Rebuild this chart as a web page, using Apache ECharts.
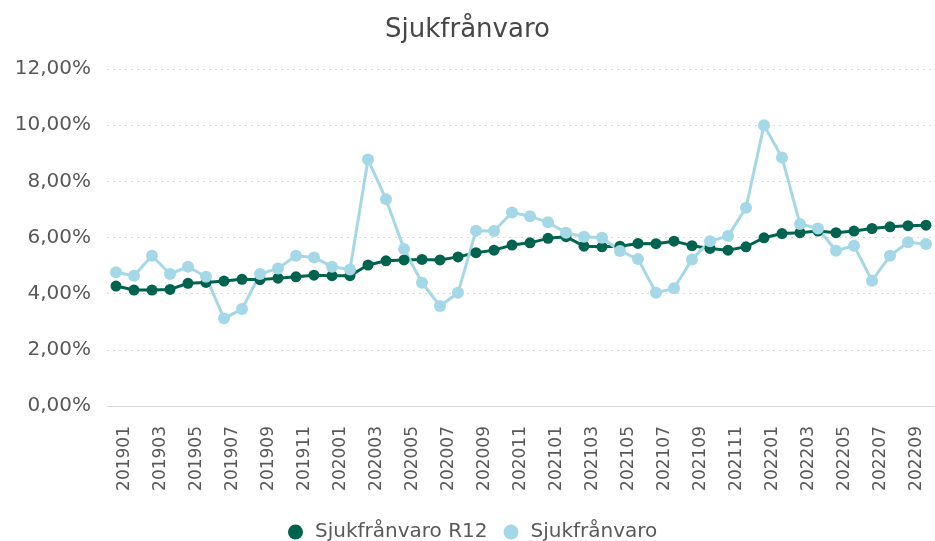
<!DOCTYPE html>
<html>
<head>
<meta charset="utf-8">
<script src="https://cdn.jsdelivr.net/npm/echarts@6/dist/echarts.min.js"></script>
<style>
  html, body { margin: 0; padding: 0; background: #fff; }
  #chart { width: 935px; height: 541px; }
</style>
</head>
<body>
<div id="chart"></div>
<script>
// månader
const months = [
  '201901', '201902', '201903', '201904', '201905', '201906', '201907', '201908', '201909', '201910', '201911', '201912',
  '202001', '202002', '202003', '202004', '202005', '202006', '202007', '202008', '202009', '202010', '202011', '202012',
  '202101', '202102', '202103', '202104', '202105', '202106', '202107', '202108', '202109', '202110', '202111', '202112',
  '202201', '202202', '202203', '202204', '202205', '202206', '202207', '202208', '202209', '202210'
]

// rullande 12 månader (%)
const r12Values = [
  4.27, 4.13, 4.13, 4.15, 4.37, 4.40, 4.45, 4.51, 4.50, 4.55, 4.60, 4.66,
  4.64, 4.64, 5.02, 5.17, 5.20, 5.22, 5.20, 5.31, 5.46, 5.55, 5.73, 5.81,
  5.97, 6.03, 5.69, 5.67, 5.69, 5.79, 5.78, 5.87, 5.71, 5.61, 5.55, 5.67,
  5.99, 6.14, 6.17, 6.23, 6.17, 6.23, 6.32, 6.38, 6.42, 6.44
]

// månadsvärden (%)
const monthValues = [
  4.76, 4.64, 5.35, 4.70, 4.96, 4.60, 3.12, 3.45, 4.70, 4.90, 5.35, 5.29,
  4.96, 4.86, 8.78, 7.36, 5.59, 4.39, 3.56, 4.03, 6.24, 6.23, 6.89, 6.76,
  6.54, 6.17, 6.03, 5.99, 5.52, 5.23, 4.03, 4.19, 5.22, 5.87, 6.05, 7.06,
  10.00, 8.85, 6.48, 6.32, 5.53, 5.71, 4.46, 5.35, 5.83, 5.77
]

const seriesNames = ['Sjukfrånvaro R12', 'Sjukfrånvaro']
const FONT = 'DejaVu Sans'

const chart = echarts.init(document.getElementById('chart'))

const option = {
  animation: false,
  backgroundColor: '#fff',
  title: {
    text: 'Sjukfrånvaro',
    left: 'center',
    top: 12,
    textStyle: {fontFamily: FONT, fontSize: 26, fontWeight: 'normal', color: '#474747'}
  },
  legend: {
    data: seriesNames,
    left: 283,
    top: 517,
    icon: 'circle',
    itemWidth: 15,
    itemHeight: 15,
    itemGap: 16,
    textStyle: {fontFamily: FONT, fontSize: 20, color: '#595959', padding: [0, 0, 0, 7]}
  },
  grid: {
    left: 107,
    right: -9,
    top: 69,
    bottom: 135,
    containLabel: false
  },
  xAxis: {
    type: 'category',
    data: months,
    boundaryGap: true,
    axisLine: {lineStyle: {color: '#d9d9d9', width: 1}},
    axisTick: {alignWithLabel: true, interval: 1, length: 5, lineStyle: {color: '#d9d9d9'}},
    axisLabel: {
      interval: 1,
      rotate: 90,
      margin: 20,
      fontFamily: FONT,
      fontSize: 17,
      color: '#595959',
      verticalAlign: 'top',
      lineHeight: 18
    }
  },
  yAxis: {
    type: 'value',
    min: 0,
    max: 12,
    interval: 2,
    axisLine: {show: false},
    axisTick: {show: false},
    axisLabel: {
      margin: 16,
      fontFamily: FONT,
      fontSize: 20,
      color: '#595959',
      formatter: v => v.toFixed(2).replace('.', ',') + '%'
    },
    splitLine: {lineStyle: {color: '#d9d9d9', type: [2, 4], width: 1}}
  },
  series: [
    {
      name: seriesNames[0],
      type: 'line',
      data: r12Values,
      symbol: 'circle',
      symbolSize: 11,
      color: '#00634d',
      lineStyle: {width: 3},
      clip: false
    },
    {
      name: seriesNames[1],
      type: 'line',
      data: monthValues,
      symbol: 'circle',
      symbolSize: 12,
      color: '#a5d8e7',
      lineStyle: {width: 3},
      clip: false
    }
  ]
}

chart.setOption(option)
</script>
</body>
</html>
